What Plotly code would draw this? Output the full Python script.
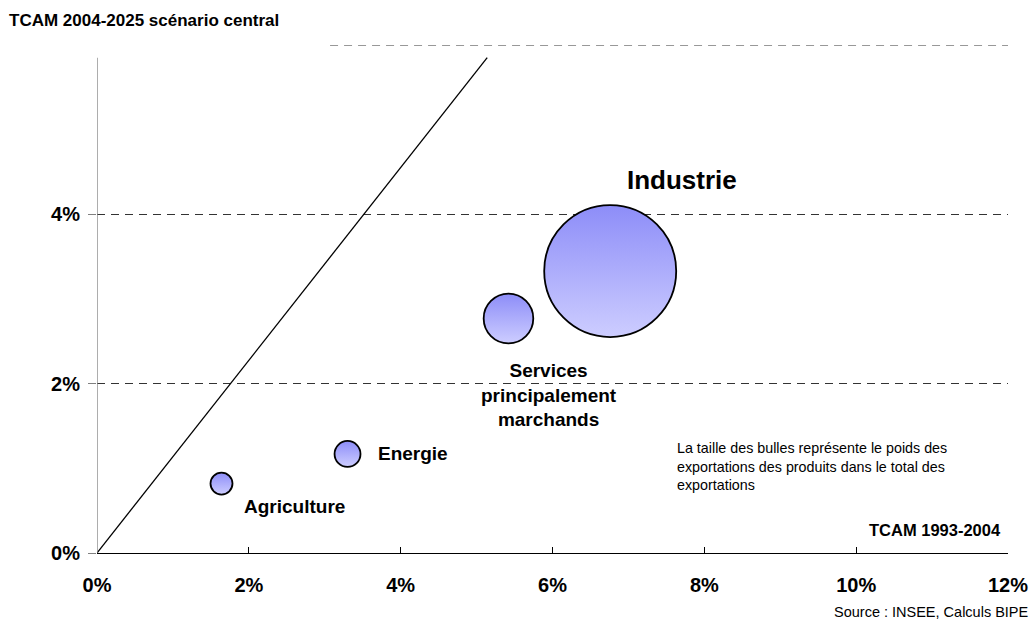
import plotly.graph_objects as go

# Sector growth rates (TCAM, % per year) and export weights
sectors = ["Agriculture", "Energie", "Services principalement marchands", "Industrie"]
tcam_1993_2004 = [1.64, 3.30, 5.42, 6.76]
tcam_2004_2025 = [0.82, 1.17, 2.77, 3.33]
export_weight = [2.3, 3.2, 11.7, 82.8]

# Bubble labels as drawn (line breaks for the long one)
bubble_labels = ["Agriculture", "Energie", "Services<br>principalement<br>marchands", "Industrie"]

# Reference diagonal
diag_x = [0.0, 5.14]
diag_y = [0.0, 5.85]

x_ticks = [0, 2, 4, 6, 8, 10, 12]
x_tick_labels = ["0%", "2%", "4%", "6%", "8%", "10%", "12%"]
y_ticks = [0, 2, 4]
y_tick_labels = ["0%", "2%", "4%"]

FONT = "Liberation Sans, Arial, Helvetica, sans-serif"
DASH = "8px,6px"
GRID = "#333333"

# Label placement relative to each bubble centre (pixels)
label_style = {
    "Agriculture": dict(xanchor="left", xshift=20, yshift=-23, size=19),
    "Energie": dict(xanchor="left", xshift=28, yshift=0, size=19),
    "Services principalement marchands": dict(xanchor="center", xshift=41, yshift=-77, size=19),
    "Industrie": dict(xanchor="center", xshift=72, yshift=91, size=26),
}

max_diam = 132
sizeref = 2 * max(export_weight) / max_diam ** 2

fig = go.Figure()

fig.add_trace(go.Scatter(
    x=diag_x, y=diag_y, mode="lines",
    line=dict(color="black", width=1.3),
    hoverinfo="skip", showlegend=False,
))

fig.add_trace(go.Scatter(
    x=tcam_1993_2004, y=tcam_2004_2025, mode="markers",
    text=sectors,
    marker=dict(
        size=export_weight, sizemode="area", sizeref=sizeref,
        color="#8d8df8",
        gradient=dict(type="vertical", color="#cdcdff"),
        line=dict(color="black", width=1.8),
        opacity=1,
    ),
    cliponaxis=False,
    showlegend=False,
))

annotations = []
for name, lbl, xv, yv in zip(sectors, bubble_labels, tcam_1993_2004, tcam_2004_2025):
    st = label_style[name]
    annotations.append(dict(
        x=xv, y=yv, xref="x", yref="y", text=f"<b>{lbl}</b>", showarrow=False,
        xanchor=st["xanchor"], yanchor="middle", xshift=st["xshift"], yshift=st["yshift"],
        align="center", font=dict(family=FONT, size=st["size"], color="black"),
    ))

annotations += [
    dict(text="<b>TCAM 2004-2025 scénario central</b>", xref="paper", yref="paper",
         x=-0.099, y=1.0488, xanchor="left", yanchor="middle", showarrow=False,
         font=dict(family=FONT, size=17, color="black")),
    dict(text="La taille des bulles représente le poids des<br>exportations des produits dans le total des<br>exportations",
         xref="paper", yref="paper", x=0.635, y=0.1697, xanchor="left", yanchor="middle",
         align="left", showarrow=False, font=dict(family=FONT, size=14.3, color="black")),
    dict(text="<b>TCAM 1993-2004</b>", xref="paper", yref="paper", x=0.9948, y=0.045,
         xanchor="right", yanchor="middle", showarrow=False,
         font=dict(family=FONT, size=16.5, color="black")),
    dict(text="Source : INSEE, Calculs BIPE", xref="paper", yref="paper", x=1.025, y=-0.1154,
         xanchor="right", yanchor="middle", showarrow=False,
         font=dict(family=FONT, size=14.5, color="black")),
]

shapes = [
    # y-axis line (stops short of the top)
    dict(type="line", xref="x", yref="y", x0=0, x1=0, y0=0, y1=5.85,
         line=dict(color="#808080", width=1.3), layer="above"),
    # partial 6% gridline
    dict(type="line", xref="x", yref="y", x0=3.07, x1=12, y0=6, y1=6,
         line=dict(color=GRID, width=1, dash=DASH), layer="below"),
]

fig.update_layout(
    width=1029, height=626,
    margin=dict(l=96.5, r=21.3, t=44.8, b=72.7, autoexpand=False),
    paper_bgcolor="white", plot_bgcolor="white",
    font=dict(family=FONT, color="black"),
    annotations=annotations, shapes=shapes,
    showlegend=False,
)

fig.update_xaxes(
    range=[0, 12], tickvals=x_ticks, ticktext=x_tick_labels,
    showline=True, linecolor="black", linewidth=1.3,
    ticks="inside", ticklen=6, tickcolor="black", tickwidth=1.3,
    showgrid=False, zeroline=False,
    tickfont=dict(family=FONT, size=20, color="black", weight="bold"),
    ticklabelstandoff=14,
)
fig.update_yaxes(
    range=[0, 6], tickvals=y_ticks, ticktext=y_tick_labels,
    showline=False, ticks="outside", ticklen=8, tickcolor="#808080", tickwidth=1.3,
    showgrid=True, gridcolor=GRID, gridwidth=1, griddash=DASH,
    zeroline=False,
    tickfont=dict(family=FONT, size=20, color="black", weight="bold"),
    ticklabelstandoff=4,
)

fig.write_html("out.html")
